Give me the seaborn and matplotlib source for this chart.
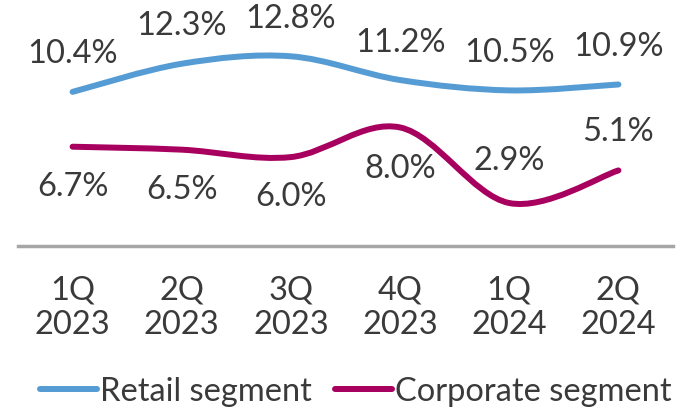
import matplotlib
matplotlib.use("Agg")
import matplotlib.pyplot as plt
from matplotlib.lines import Line2D
from matplotlib.patches import PathPatch
from matplotlib.path import Path
import numpy as np
import pandas as pd
import seaborn as sns

# Data
quarters = ["1Q\n2023", "2Q\n2023", "3Q\n2023", "4Q\n2023", "1Q\n2024", "2Q\n2024"]
retail = [10.4, 12.3, 12.8, 11.2, 10.5, 10.9]
corporate = [6.7, 6.5, 6.0, 8.0, 2.9, 5.1]
series_names = ["Retail segment", "Corporate segment"]

BLUE = "#559BD4"
MAGENTA = "#A8005F"
TEXT = "#3a3a3a"
FS = 23.5

sns.set_theme(style="white")
plt.rcParams["font.family"] = ["Lato", "DejaVu Sans"]
plt.rcParams["text.color"] = TEXT


def smooth_path(xy):
    """Excel-like smoothed line: cubic Bezier through the points."""
    pts = np.asarray(xy, dtype=float)
    padded = np.vstack([pts[0], pts, pts[-1]])
    verts = [pts[0]]
    codes = [Path.MOVETO]
    for i in range(1, len(pts)):
        p0, p1, p2, p3 = padded[i - 1], padded[i], padded[i + 1], padded[i + 2]
        c1 = p1 + (p2 - p0) / 6.0
        c2 = p2 - (p3 - p1) / 6.0
        verts += [c1, c2, p2]
        codes += [Path.CURVE4] * 3
    return Path(verts, codes)


df = pd.DataFrame({
    "pos": list(range(len(quarters))) * 2,
    "value": retail + corporate,
    "segment": [series_names[0]] * len(retail) + [series_names[1]] * len(corporate),
})

fig = plt.figure(figsize=(6.79, 4.09), dpi=100)
ax = fig.add_axes([18 / 679, 1 - 246 / 409, 655 / 679, 246 / 409])

sns.lineplot(data=df, x="pos", y="value", hue="segment",
             palette=[BLUE, MAGENTA], linewidth=4.3, legend=False, ax=ax)

# replace the straight segments with smoothed curves
for line in ax.get_lines():
    path = smooth_path(line.get_xydata())
    ax.add_patch(PathPatch(path, facecolor="none", edgecolor=line.get_color(),
                           linewidth=4.3, capstyle="round", joinstyle="round"))
    line.set_visible(False)

# value labels
for i, v in enumerate(retail):
    ax.annotate(f"{v:.1f}%", (i, v), xytext=(0, 27), textcoords="offset points",
                ha="center", va="center", fontsize=FS, color=TEXT)
corp_offsets = [-29, -29, -29, -30, 30, 28]
for i, v in enumerate(corporate):
    ax.annotate(f"{v:.1f}%", (i, v), xytext=(0, corp_offsets[i]), textcoords="offset points",
                ha="center", va="center", fontsize=FS, color=TEXT)

ax.set_xlim(-0.5, len(quarters) - 0.5)
ax.set_ylim(0, 16.6)
ax.set_xticks(range(len(quarters)))
ax.set_xticklabels(quarters, fontsize=FS, color=TEXT, linespacing=1.2)
ax.tick_params(axis="x", length=0, pad=21)
ax.set_yticks([])
ax.set_xlabel("")
ax.set_ylabel("")
sns.despine(ax=ax, left=True, top=True, right=True)
ax.spines["bottom"].set_color("#a6a6a6")
ax.spines["bottom"].set_linewidth(2.5)

handles = [Line2D([], [], color=BLUE, lw=4.3, solid_capstyle="round"),
           Line2D([], [], color=MAGENTA, lw=4.3, solid_capstyle="round")]
fig.legend(handles, series_names, loc="center", bbox_to_anchor=(0.524, 0.042),
           ncol=2, frameon=False, fontsize=FS, handlelength=1.75,
           handletextpad=0.1, columnspacing=0.7, borderaxespad=0, borderpad=0)

fig.savefig("out.png", dpi=100)
plt.close(fig)
